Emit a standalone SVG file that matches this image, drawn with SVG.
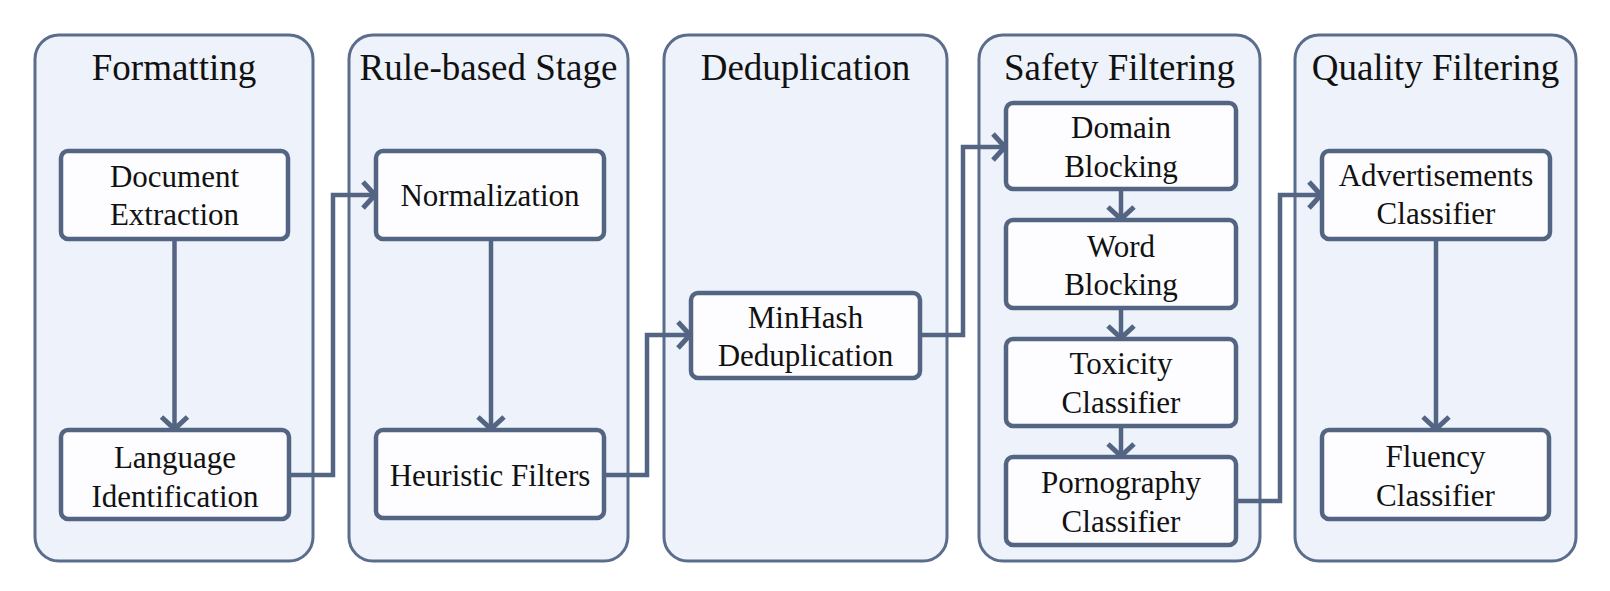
<svg xmlns="http://www.w3.org/2000/svg" width="1610" height="591" viewBox="0 0 1610 591">
<style>
.panel{fill:#eef2fa;stroke:#5b6d8c;stroke-width:3}
.node{fill:#fdfdff;stroke:#536583;stroke-width:4.5}
.title{font-family:"Liberation Serif","Times New Roman",serif;font-size:37px;fill:#111;text-anchor:middle}
.label{font-family:"Liberation Serif","Times New Roman",serif;font-size:31px;fill:#111;text-anchor:middle}
.conn{fill:none;stroke:#536583;stroke-width:4.5;marker-end:url(#arr)}
</style>
<defs>
<marker id="arr" markerUnits="userSpaceOnUse" viewBox="-18 -18 22 36" markerWidth="22" markerHeight="36" refX="0" refY="0" orient="auto">
<path d="M -13 -13 L -1 0 L -13 13" fill="none" stroke="#536583" stroke-width="5" stroke-linejoin="miter"/>
</marker>
</defs>
<rect width="1610" height="591" fill="#ffffff"/>
<g id="stage-formatting">
<rect class="panel" x="35" y="35" width="278" height="526" rx="24"/>
<text class="title" x="174" y="80">Formatting</text>
</g>
<g id="stage-rule">
<rect class="panel" x="349" y="35" width="279" height="526" rx="24"/>
<text class="title" x="488.5" y="80">Rule-based Stage</text>
</g>
<g id="stage-dedup">
<rect class="panel" x="664" y="35" width="283" height="526" rx="24"/>
<text class="title" x="805.5" y="80">Deduplication</text>
</g>
<g id="stage-safety">
<rect class="panel" x="979" y="35" width="281" height="526" rx="24"/>
<text class="title" x="1119.5" y="80">Safety Filtering</text>
</g>
<g id="stage-quality">
<rect class="panel" x="1295" y="35" width="281" height="526" rx="24"/>
<text class="title" x="1435.5" y="80">Quality Filtering</text>
</g>
<g id="connectors">
<path class="conn" d="M174.5 239 V430"/>
<path class="conn" d="M289 475 H333 V195 H376"/>
<path class="conn" d="M491 239 V430"/>
<path class="conn" d="M604 475 H647 V335 H691"/>
<path class="conn" d="M920 335 H963 V147 H1006"/>
<path class="conn" d="M1121 189 V220"/>
<path class="conn" d="M1121 308 V339"/>
<path class="conn" d="M1121 426 V457"/>
<path class="conn" d="M1236 501 H1280 V195 H1322"/>
<path class="conn" d="M1436 239 V430"/>
</g>
<g id="node-doc">
<rect class="node" x="61" y="151" width="227" height="88" rx="7"/>
<text class="label" x="174.5" y="187">Document</text>
<text class="label" x="174.5" y="225">Extraction</text>
</g>
<g id="node-lang">
<rect class="node" x="61" y="430" width="228" height="89" rx="7"/>
<text class="label" x="175" y="468">Language</text>
<text class="label" x="175" y="507">Identification</text>
</g>
<g id="node-norm">
<rect class="node" x="376" y="151" width="228" height="88" rx="7"/>
<text class="label" x="490" y="206">Normalization</text>
</g>
<g id="node-heur">
<rect class="node" x="376" y="430" width="228" height="88" rx="7"/>
<text class="label" x="490" y="486">Heuristic Filters</text>
</g>
<g id="node-minhash">
<rect class="node" x="691" y="293" width="229" height="85" rx="7"/>
<text class="label" x="805.5" y="328">MinHash</text>
<text class="label" x="805.5" y="366">Deduplication</text>
</g>
<g id="node-domain">
<rect class="node" x="1006" y="103" width="230" height="86" rx="7"/>
<text class="label" x="1121" y="138">Domain</text>
<text class="label" x="1121" y="177">Blocking</text>
</g>
<g id="node-word">
<rect class="node" x="1006" y="220" width="230" height="88" rx="7"/>
<text class="label" x="1121" y="257">Word</text>
<text class="label" x="1121" y="295">Blocking</text>
</g>
<g id="node-toxicity">
<rect class="node" x="1006" y="339" width="230" height="87" rx="7"/>
<text class="label" x="1121" y="374">Toxicity</text>
<text class="label" x="1121" y="413">Classifier</text>
</g>
<g id="node-porn">
<rect class="node" x="1006" y="457" width="230" height="88" rx="7"/>
<text class="label" x="1121" y="493">Pornography</text>
<text class="label" x="1121" y="532">Classifier</text>
</g>
<g id="node-ads">
<rect class="node" x="1322" y="151" width="228" height="88" rx="7"/>
<text class="label" x="1436" y="186">Advertisements</text>
<text class="label" x="1436" y="224">Classifier</text>
</g>
<g id="node-fluency">
<rect class="node" x="1322" y="430" width="227" height="89" rx="7"/>
<text class="label" x="1435.5" y="467">Fluency</text>
<text class="label" x="1435.5" y="506">Classifier</text>
</g>
</svg>
